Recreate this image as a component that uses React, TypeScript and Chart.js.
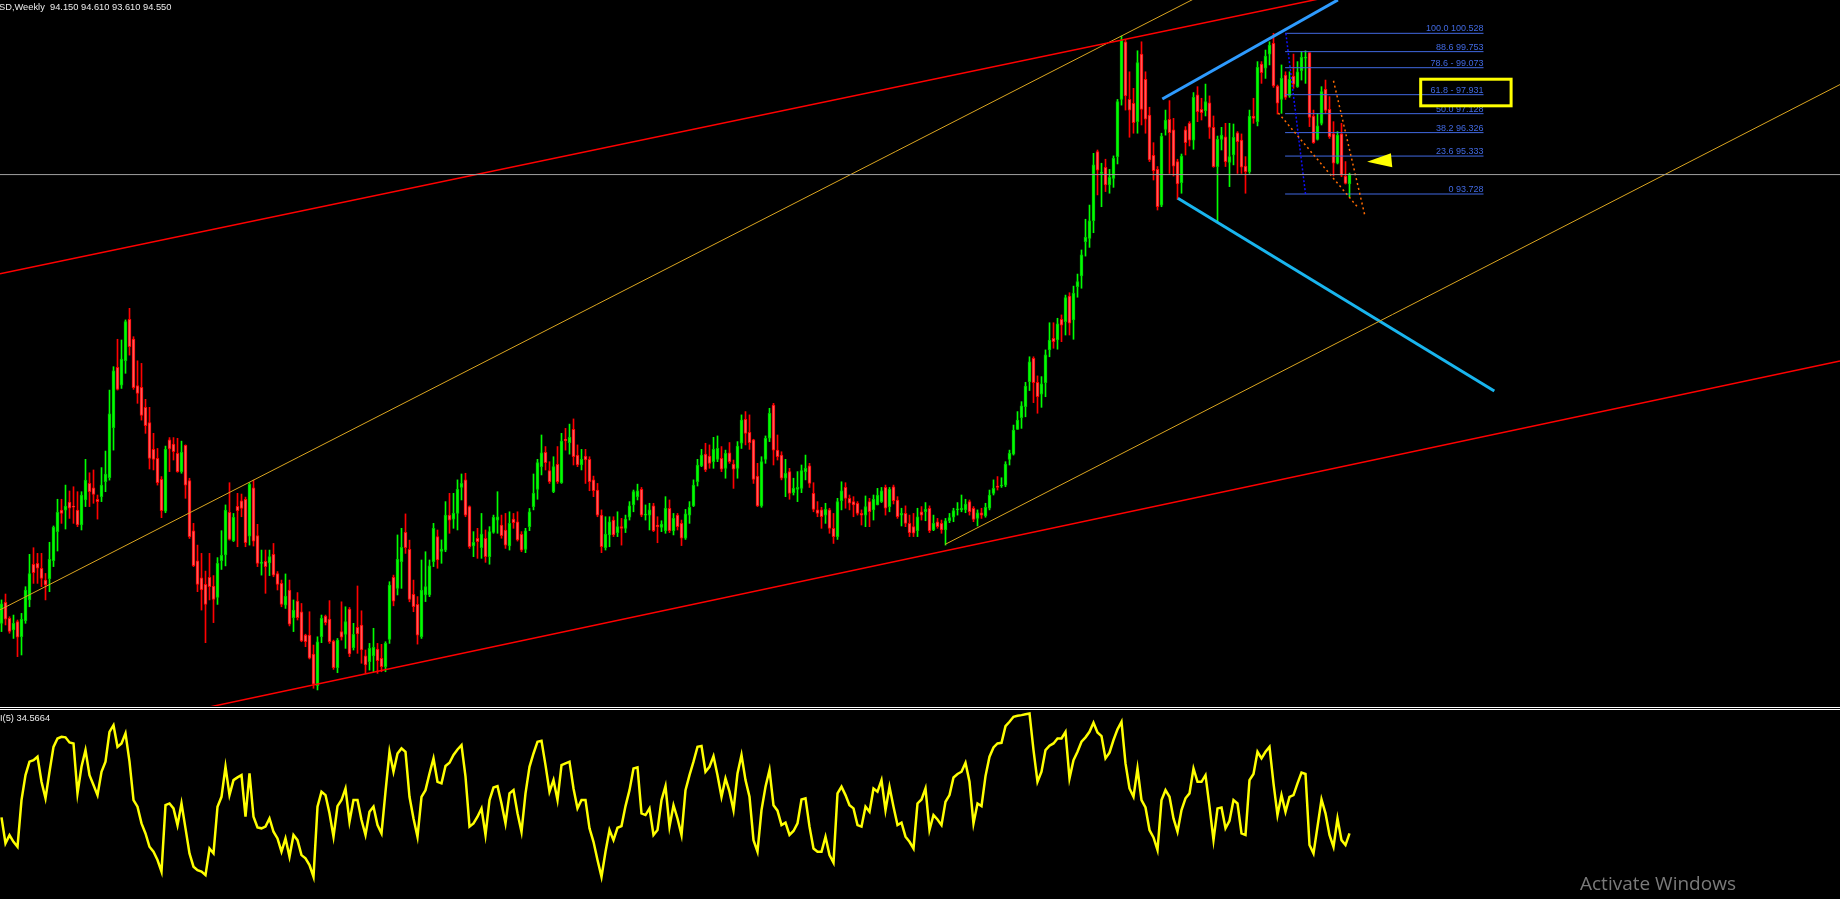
import React, { useEffect, useRef } from 'react';
import { Chart, registerables } from 'chart.js';
Chart.register(...registerables);

// ---- Weekly OHLC ----
const opens = [
75.56,76.45,75.77,75.28,75.63,74.99,75.67,76.55,78.06,78.10,
77.89,77.39,77.45,78.21,79.44,80.35,80.35,80.69,80.52,80.35,
79.72,80.78,81.48,81.29,80.81,80.92,81.55,81.72,83.84,86.39,
85.64,86.67,88.42,87.59,85.62,85.55,84.70,84.06,82.92,82.54,
81.65,80.31,83.32,83.15,82.75,81.98,83.09,81.60,79.47,78.20,
77.48,77.21,77.51,77.14,76.66,78.21,78.45,80.26,79.06,80.51,
80.74,80.81,79.25,81.29,79.27,78.10,78.18,78.12,78.48,77.67,
77.25,76.33,76.97,75.80,76.50,76.05,75.06,75.06,74.26,72.92,
74.99,75.87,75.74,74.81,73.68,75.21,75.09,76.16,74.53,75.39,
75.49,74.18,73.94,74.18,74.47,74.08,73.73,74.88,77.51,77.04,
78.17,79.41,78.69,76.79,76.36,75.00,76.76,76.76,78.17,79.23,
78.60,78.66,80.14,79.97,80.21,81.31,81.63,80.50,78.84,79.16,
78.76,79.16,78.38,79.41,79.93,79.72,79.51,78.84,79.97,79.86,
79.33,78.69,79.65,80.50,81.23,82.19,82.80,82.02,81.13,82.29,
81.51,83.35,83.20,83.77,82.68,82.26,82.64,82.50,81.63,81.20,
80.14,78.76,79.30,79.93,79.40,79.65,79.58,80.05,80.57,80.92,
81.23,80.14,80.14,80.53,79.72,79.62,79.48,80.43,79.48,80.14,
79.79,79.16,80.14,80.53,81.55,82.22,82.72,82.64,82.40,82.50,
82.54,82.12,82.78,82.30,82.12,83.18,84.19,83.64,83.32,81.79,
80.53,82.50,83.39,84.80,82.89,82.68,81.70,81.98,81.09,81.23,
81.27,81.98,82.22,81.06,80.36,80.36,80.14,80.36,79.58,79.23,
80.75,81.31,80.85,80.71,80.64,80.21,80.14,80.71,80.36,80.57,
80.71,81.31,80.50,81.34,80.78,80.14,80.21,79.79,79.65,79.48,
80.28,80.28,80.43,79.51,79.86,79.79,79.51,79.90,80.05,80.36,
80.36,80.36,80.71,80.43,80.00,80.24,80.10,80.43,81.06,81.37,
81.37,81.41,82.50,82.72,83.77,84.26,84.73,85.79,86.77,85.76,
85.26,85.74,87.13,87.62,87.55,88.42,88.33,89.41,88.40,89.81,
90.26,91.71,91.85,92.60,95.52,94.60,94.86,94.11,94.39,95.31,
97.73,100.17,97.73,97.57,96.79,99.65,98.58,97.07,95.36,94.77,
93.26,96.46,96.89,96.44,95.10,94.21,96.44,96.72,96.01,97.92,
97.31,97.25,97.59,96.55,94.89,96.04,96.15,95.06,95.38,96.32,
96.01,94.91,94.67,97.03,96.79,99.23,99.05,99.65,100.10,98.30,
97.73,98.76,97.88,98.72,98.27,98.95,99.48,99.71,97.03,96.04,
96.72,98.16,97.31,96.27,95.03,96.27,94.49,94.15
];
const highs = [
76.55,76.80,75.84,75.91,75.70,75.98,77.11,78.48,78.76,78.52,
78.52,77.67,78.99,79.68,80.81,80.81,81.41,81.16,81.34,81.13,
81.13,82.50,81.93,82.05,80.99,82.15,82.85,85.43,86.42,87.58,
87.55,88.40,88.89,87.69,86.67,86.56,85.04,84.70,83.60,82.96,
81.77,83.06,83.42,83.42,83.39,83.27,83.11,81.70,79.79,78.87,
78.52,77.77,78.52,77.58,78.34,79.48,80.57,81.51,80.21,81.06,
81.03,80.90,81.51,81.62,79.75,78.66,78.66,78.66,78.94,77.75,
77.39,77.65,77.39,76.55,76.86,76.40,75.10,76.05,74.64,74.99,
75.91,75.91,76.52,74.85,74.92,76.47,76.26,76.23,75.56,77.14,
76.09,74.43,74.71,75.35,74.71,74.67,74.78,77.32,77.60,79.30,
79.58,80.19,79.08,77.39,76.69,78.24,78.59,78.24,79.79,79.51,
79.09,80.71,81.06,81.06,81.63,81.88,81.91,80.53,79.44,79.58,
80.21,79.51,79.65,80.14,81.13,80.14,80.21,80.28,80.21,80.28,
79.44,79.58,80.42,81.88,82.50,83.53,83.04,82.40,82.61,83.04,
83.60,83.81,83.99,84.21,83.11,82.92,82.92,82.61,81.79,81.48,
80.36,80.07,80.07,80.07,80.28,80.00,80.14,80.71,81.20,81.45,
81.31,80.57,80.64,80.64,80.07,79.90,80.92,80.78,80.21,80.21,
79.93,80.38,80.71,81.63,82.50,82.92,83.18,83.11,83.43,83.49,
83.04,82.89,83.21,82.47,83.25,84.38,84.52,84.38,83.35,82.33,
82.61,83.49,84.66,84.87,83.53,82.82,82.50,82.12,81.70,81.98,
82.26,82.68,82.33,81.51,80.71,80.47,80.64,80.43,80.21,80.85,
81.55,81.51,80.99,80.92,80.71,80.36,80.95,80.85,80.99,81.27,
81.31,81.41,81.31,81.41,80.92,80.43,80.53,80.14,80.21,80.43,
80.50,80.67,80.53,80.14,80.00,79.93,80.00,80.21,80.43,80.67,
80.99,80.81,80.78,80.50,80.36,80.43,80.64,81.20,81.63,81.77,
81.72,82.40,82.89,83.95,84.52,84.94,85.76,86.84,86.84,86.03,
86.00,87.13,88.28,88.28,88.47,88.61,89.45,89.55,89.83,90.34,
91.36,92.66,93.26,95.45,95.59,95.03,95.20,94.77,95.34,97.73,
100.41,100.25,98.90,98.20,99.79,100.17,98.90,97.40,95.90,94.89,
96.30,97.28,97.68,96.93,95.20,95.42,96.58,96.79,98.02,98.27,
97.78,98.38,97.88,97.03,96.18,96.55,96.72,96.72,96.69,96.37,
96.27,95.31,97.28,97.78,99.33,99.33,99.82,100.17,100.53,98.34,
99.19,98.90,98.90,99.65,99.33,99.75,99.79,99.71,97.28,97.14,
98.27,98.55,97.85,96.79,96.37,96.72,95.10,94.61
];
const lows = [
75.21,75.49,75.14,74.92,74.15,74.22,75.56,76.26,77.25,77.25,
77.11,76.55,76.90,77.96,78.62,79.79,79.55,80.00,79.79,79.65,
79.51,80.50,80.50,80.64,79.97,80.71,81.13,81.62,82.89,85.43,
85.50,86.14,86.91,85.46,84.87,84.16,83.60,82.09,82.05,81.41,
80.03,80.24,81.98,82.47,81.95,81.91,80.85,79.15,77.96,76.90,
76.12,74.74,76.55,75.59,76.36,77.84,77.99,79.08,79.02,78.80,
80.07,78.80,78.87,78.83,77.96,77.60,76.83,77.58,77.53,76.97,
76.26,76.19,75.45,75.21,75.70,74.78,74.57,74.05,72.81,72.74,
74.74,75.49,74.71,73.61,73.47,74.85,74.50,74.15,74.43,74.29,
73.87,73.44,73.58,73.51,73.44,73.51,73.51,74.71,76.30,76.76,
77.04,78.52,76.47,76.05,74.68,74.92,76.48,76.69,77.96,77.89,
78.10,78.59,79.37,79.58,79.51,80.78,80.07,78.73,78.38,78.31,
78.31,78.14,78.06,79.37,79.37,79.16,78.73,78.66,79.58,79.04,
78.59,78.55,79.48,80.36,80.81,81.84,82.05,81.48,81.09,81.48,
81.48,82.89,82.72,82.26,82.19,82.05,81.48,81.17,80.92,80.07,
78.55,78.66,78.80,79.23,79.23,78.87,79.40,79.93,80.28,80.78,
80.07,79.93,79.51,79.44,78.97,79.44,79.37,79.40,79.30,79.51,
78.85,79.11,79.79,80.50,81.37,82.19,81.98,82.12,82.12,82.40,
81.98,81.70,82.33,81.27,81.70,82.96,83.11,82.92,81.48,80.50,
80.47,82.33,83.25,82.26,82.47,81.63,80.92,80.81,80.99,80.71,
81.09,81.63,81.31,80.28,80.07,79.58,79.79,79.37,78.94,79.11,
80.36,80.43,80.36,80.07,80.14,79.72,79.65,79.65,79.93,80.57,
80.67,80.14,80.28,80.61,80.00,79.68,79.65,79.23,79.23,79.23,
79.93,79.90,79.40,79.48,79.58,79.37,78.87,79.82,79.86,80.14,
80.28,80.24,80.14,79.86,79.68,80.00,80.05,80.36,80.99,81.20,
81.31,81.34,82.26,82.68,83.77,83.81,84.30,85.41,84.90,84.45,
84.70,85.15,86.84,87.20,87.16,87.48,87.76,87.76,87.58,89.36,
89.74,91.10,91.47,92.09,93.69,93.19,93.83,93.76,94.01,95.00,
97.49,97.28,96.13,96.30,96.30,96.65,96.30,95.10,94.32,93.05,
93.19,96.22,94.60,94.49,93.50,93.76,95.38,95.76,95.62,96.79,
96.86,97.03,96.08,94.86,92.56,95.59,94.89,94.04,94.96,94.60,
94.60,93.76,94.60,96.72,96.61,98.41,98.62,99.19,98.24,97.11,
97.14,97.73,97.82,98.20,98.24,98.55,98.41,96.58,95.87,96.01,
96.65,97.14,96.08,94.49,95.00,94.46,94.15,93.61
];
const closes = [
76.38,75.74,75.22,75.56,74.97,75.73,76.97,77.67,77.70,77.89,
77.46,77.18,78.27,79.62,80.26,80.21,80.52,80.43,80.47,79.72,
80.99,81.62,81.13,81.02,80.71,81.41,81.88,84.42,86.24,85.46,
86.74,88.33,87.27,85.53,85.29,84.36,83.92,82.54,82.50,81.51,
80.33,82.92,82.94,82.82,81.98,82.80,81.41,79.23,78.00,77.21,
76.97,76.36,77.11,76.57,78.10,78.44,80.35,79.11,80.04,80.33,
80.42,78.97,81.44,79.04,78.10,78.14,77.96,78.38,77.60,77.21,
76.36,76.71,75.52,76.12,75.80,74.82,74.78,74.08,72.98,74.78,
75.77,75.59,74.78,73.68,74.85,74.97,75.63,74.26,75.09,75.11,
74.43,73.80,74.50,74.54,73.98,73.73,74.71,77.18,76.50,78.27,
78.78,78.76,76.57,76.26,75.06,76.97,77.11,77.99,79.58,78.24,
78.70,80.14,79.93,80.21,81.23,81.48,80.14,78.80,78.99,79.02,
79.34,78.38,79.44,80.05,80.07,79.27,78.87,79.79,79.82,79.09,
78.66,79.47,80.28,81.06,82.36,82.78,82.36,81.55,82.19,81.55,
83.27,83.29,83.43,82.61,82.26,82.50,82.47,81.55,81.17,80.14,
78.80,79.34,79.86,79.30,79.65,79.58,79.97,80.53,81.13,81.17,
80.14,80.17,80.36,79.48,79.65,79.76,80.43,79.48,80.00,79.65,
79.16,80.19,80.47,81.41,82.26,82.68,82.05,82.33,82.92,82.96,
82.08,82.75,82.40,82.08,83.06,84.16,83.60,83.20,81.65,80.53,
82.40,83.39,84.45,82.89,82.61,81.70,81.91,81.06,81.27,81.31,
82.02,82.12,81.48,80.38,80.21,80.07,80.38,79.58,79.23,80.71,
81.17,80.85,80.64,80.57,80.21,80.14,80.50,80.28,80.81,80.99,
81.17,80.43,81.23,80.75,80.07,80.21,79.79,79.40,79.37,80.07,
80.14,80.38,79.48,79.79,79.65,79.51,79.90,80.03,80.33,80.40,
80.43,80.61,80.28,79.96,80.24,80.14,80.47,80.99,81.27,81.31,
81.41,82.30,82.75,83.74,84.16,84.76,85.60,86.63,85.74,85.15,
85.69,86.92,87.55,87.48,88.23,88.18,89.34,88.26,89.52,90.02,
91.15,91.89,92.59,94.96,94.74,94.65,94.11,94.43,95.24,97.64,
100.25,97.88,97.28,96.75,99.29,97.31,96.89,95.17,94.72,93.19,
96.18,96.86,96.32,94.91,94.15,95.33,95.90,96.01,97.82,97.21,
97.17,97.64,96.55,94.89,96.04,96.22,95.10,95.31,96.13,95.94,
94.86,94.67,97.03,96.93,99.09,98.86,99.57,100.03,98.30,97.57,
98.62,97.82,98.58,98.38,98.90,99.51,99.51,96.97,95.90,96.61,
98.06,97.26,96.15,95.03,96.22,94.53,94.18,94.55
];

// ---- RSI(5) values ----
const rsi5 = [
43.0,29.3,33.6,30.1,27.5,52.1,65.2,72.3,73.1,74.9,
61.7,53.0,67.0,80.1,84.5,85.4,85.1,82.4,81.9,55.6,
69.6,78.4,65.2,60.0,54.7,67.0,72.3,88.0,91.5,80.1,
81.9,87.2,72.3,52.1,48.6,39.8,34.5,27.5,24.9,20.5,
14.4,49.4,50.3,47.7,38.9,50.3,37.2,24.0,17.0,15.2,
14.4,12.6,26.6,24.0,48.6,53.8,69.6,54.7,62.6,64.0,
65.2,43.3,66.1,43.3,37.7,37.2,38.1,42.4,35.4,31.9,
24.9,31.9,22.3,33.7,31.0,23.1,21.4,17.9,11.7,48.6,
56.5,54.7,45.1,32.8,48.9,52.1,58.2,40.7,52.1,52.1,
41.6,33.7,45.9,48.6,38.9,34.5,56.5,77.5,67.0,76.6,
79.3,77.5,53.8,42.4,32.8,53.8,57.3,66.1,74.0,61.7,
60.9,70.0,71.7,75.8,78.7,81.0,64.4,38.1,39.8,43.3,
47.7,33.7,52.1,58.7,59.4,50.3,39.8,55.6,57.3,45.1,
35.4,55.6,69.6,76.6,82.8,83.3,70.5,56.5,62.6,52.1,
70.5,71.4,72.3,58.2,47.7,52.1,52.1,37.2,30.1,20.5,
11.7,24.9,36.3,31.0,37.5,38.4,48.9,57.3,68.7,69.3,
45.1,44.2,47.7,33.7,36.3,52.1,59.4,38.1,49.4,42.4,
33.7,57.3,65.2,72.3,80.1,80.5,67.0,69.6,75.2,65.2,
53.8,63.5,56.5,46.8,66.1,75.8,62.6,53.8,31.0,24.9,
46.8,59.1,67.9,49.4,46.5,38.9,40.2,33.7,35.8,39.8,
52.4,53.0,38.1,26.6,24.9,24.9,32.8,23.1,19.1,55.6,
59.1,54.7,49.4,47.7,38.9,38.1,48.6,45.9,58.2,56.5,
62.6,46.8,59.1,48.6,38.9,40.2,32.8,30.1,26.6,50.3,
52.4,58.2,36.3,44.2,41.9,38.9,51.2,54.7,64.0,65.8,
67.0,71.7,61.7,39.8,50.3,48.9,64.7,74.9,79.8,81.9,
82.2,91.0,93.3,95.9,96.5,96.8,97.3,97.7,78.4,61.7,
67.0,78.4,80.7,81.9,84.5,84.5,88.0,63.5,73.1,77.5,
82.8,85.1,88.0,92.8,87.7,85.8,74.0,77.0,83.7,89.3,
93.3,71.4,58.2,53.8,68.7,52.1,48.2,36.3,32.4,25.8,
52.1,57.3,53.8,42.4,35.4,46.8,53.0,55.6,68.7,61.7,
61.7,65.2,48.6,31.0,47.7,48.2,37.2,41.2,52.1,50.3,
34.5,33.7,62.6,65.8,77.5,74.0,77.5,80.1,60.9,44.2,
54.7,45.9,53.8,54.7,60.9,66.5,65.8,28.4,24.0,38.1,
52.4,45.1,33.7,27.5,42.4,31.0,28.4,34.5664
];

// ---- Axis ranges ----
const barIndexRange = [-0.375, 459.625];
const priceRange = [72.061, 101.938];
const rsiRange = [0, 99.5];

// ---- Fibonacci retracement ----
const fibLevels = [100.0, 88.6, 78.6, 61.8, 50.0, 38.2, 23.6, 0];
const fibPrices = [100.528, 99.753, 99.073, 97.931, 97.128, 96.326, 95.333, 93.728];
const fibLabels = ['100.0 100.528', '88.6 99.753', '78.6 - 99.073', '61.8 - 97.931', '50.0 97.128', '38.2 96.326', '23.6 95.333', '0 93.728'];
const fibSpan = [320.9, 370.5];
const fibDiagonal = [[321.1, 100.528], [326.0, 93.728]];

// ---- Trend lines: [barIndex, price] end points ----
const redUpperLine = [[-0.375, 90.35], [349.7, 102.70]];
const redLowerLine = [[50.9, 71.98], [459.625, 86.66]];
const goldUpperLine = [[-0.375, 76.13], [309.7, 102.99]];
const goldLowerLine = [[235.9, 78.90], [459.625, 98.36]];
const channelUpperLine = [[290.2, 97.75], [334.1, 101.94]];
const channelLowerLine = [[294.1, 93.55], [373.2, 85.39]];
const wedgeLineA = [[319.2, 97.16], [339.2, 93.14]];
const wedgeLineB = [[333.0, 98.52], [340.9, 92.77]];

// ---- Highlight annotations: [barIndex, price] ----
const highlightBox = [[354.8, 98.586], [377.4, 97.46]];
const arrowTriangle = [[341.4, 95.095], [347.35, 95.45], [347.7, 94.86]];

const FIB_COLOR = '#4169e1';
const LABEL_FONT = '9px "Liberation Sans", Arial, sans-serif';

function lineDs(points: number[][], color: string, width: number, dash: number[] = []) {
  return {
    type: 'line' as const,
    data: points.map(([x, y]) => ({ x, y })),
    borderColor: color,
    borderWidth: width,
    borderDash: dash,
    pointRadius: 0,
    fill: false,
    tension: 0,
    order: 1,
  };
}

const overlayPlugin = {
  id: 'overlay',
  afterDatasetsDraw(chart: any) {
    const { ctx } = chart;
    const xs = chart.scales.x;
    const ys = chart.scales.y;
    ctx.save();
    ctx.font = LABEL_FONT;
    ctx.fillStyle = FIB_COLOR;
    ctx.textAlign = 'right';
    ctx.textBaseline = 'alphabetic';
    const xr = xs.getPixelForValue(fibSpan[1]);
    fibPrices.forEach((p, k) => {
      ctx.fillText(fibLabels[k], xr, ys.getPixelForValue(p) - 2);
    });
    const bx1 = xs.getPixelForValue(highlightBox[0][0]);
    const by1 = ys.getPixelForValue(highlightBox[0][1]);
    const bx2 = xs.getPixelForValue(highlightBox[1][0]);
    const by2 = ys.getPixelForValue(highlightBox[1][1]);
    ctx.strokeStyle = '#ffff00';
    ctx.lineWidth = 3;
    ctx.strokeRect(bx1, by1, bx2 - bx1, by2 - by1);
    ctx.fillStyle = '#ffff00';
    ctx.beginPath();
    arrowTriangle.forEach(([i, p], k) => {
      const px = xs.getPixelForValue(i);
      const py = ys.getPixelForValue(p);
      if (k === 0) ctx.moveTo(px, py); else ctx.lineTo(px, py);
    });
    ctx.closePath();
    ctx.fill();
    ctx.restore();
  },
};

export default function App() {
  const mainRef = useRef<HTMLCanvasElement>(null);
  const rsiRef = useRef<HTMLCanvasElement>(null);

  useEffect(() => {
    const idx = closes.map((_, i) => i);
    const bull = (i: number) => closes[i] >= opens[i];
    const lastClose = closes[closes.length - 1];

    const datasets: any[] = [
      {
        type: 'bar',
        data: idx.map((i) => ({ x: i, y: [lows[i], highs[i]] })),
        backgroundColor: idx.map((i) => (bull(i) ? '#00ff00' : '#ff0000')),
        borderWidth: 0,
        barThickness: 1,
        grouped: false,
        minBarLength: 1,
        order: 10,
      },
      {
        type: 'bar',
        data: idx.map((i) => ({ x: i, y: [opens[i], closes[i]] })),
        backgroundColor: idx.map((i) => (bull(i) ? '#00ff00' : '#ff5a5a')),
        borderColor: idx.map((i) => (bull(i) ? '#00c800' : '#ff0000')),
        borderWidth: 1,
        borderSkipped: false,
        barThickness: 3,
        grouped: false,
        minBarLength: 1,
        order: 9,
      },
      lineDs([[barIndexRange[0], lastClose], [barIndexRange[1], lastClose]], '#a0a0a0', 1),
      lineDs(redUpperLine, '#ff0000', 1.5),
      lineDs(redLowerLine, '#ff0000', 1.5),
      lineDs(goldUpperLine, '#daa520', 1),
      lineDs(goldLowerLine, '#daa520', 1),
      lineDs(channelUpperLine, '#2e9bff', 3),
      lineDs(channelLowerLine, '#19b5ee', 3),
      lineDs(wedgeLineA, '#ff6a00', 1.5, [2, 3]),
      lineDs(wedgeLineB, '#ff6a00', 1.5, [2, 3]),
      lineDs(fibDiagonal, '#1010ff', 1.5, [2, 2]),
      ...fibPrices.map((p) => lineDs([[fibSpan[0], p], [fibSpan[1], p]], FIB_COLOR, 1)),
    ];

    const main = new Chart(mainRef.current!, {
      type: 'bar',
      data: { datasets },
      options: {
        animation: false,
        responsive: false,
        devicePixelRatio: 1,
        events: [],
        layout: { padding: 0 },
        plugins: { legend: { display: false }, tooltip: { enabled: false } },
        scales: {
          x: { type: 'linear', min: barIndexRange[0], max: barIndexRange[1], display: false, offset: false },
          y: { type: 'linear', min: priceRange[0], max: priceRange[1], display: false },
        },
      },
      plugins: [overlayPlugin],
    } as any);

    const rsi = new Chart(rsiRef.current!, {
      type: 'line',
      data: {
        datasets: [
          {
            data: rsi5.map((v, i) => ({ x: i, y: v })),
            borderColor: '#ffff00',
            borderWidth: 2.5,
            pointRadius: 0,
            tension: 0,
            fill: false,
          },
        ],
      },
      options: {
        animation: false,
        responsive: false,
        devicePixelRatio: 1,
        events: [],
        layout: { padding: 0 },
        plugins: { legend: { display: false }, tooltip: { enabled: false } },
        scales: {
          x: { type: 'linear', min: barIndexRange[0], max: barIndexRange[1], display: false },
          y: { type: 'linear', min: rsiRange[0], max: rsiRange[1], display: false },
        },
      },
    } as any);

    return () => {
      main.destroy();
      rsi.destroy();
    };
  }, []);

  const textBase: React.CSSProperties = {
    position: 'absolute',
    font: '9.3px "Liberation Sans", Arial, sans-serif',
    lineHeight: '9px',
    color: '#ececec',
    whiteSpace: 'pre',
  };

  return (
    <div style={{ position: 'fixed', left: 0, top: 0, width: 1840, height: 899, background: '#000', overflow: 'hidden' }}>
      <canvas ref={mainRef} width={1840} height={706} style={{ position: 'absolute', left: 0, top: 0, width: 1840, height: 706 }} />
      <div style={{ position: 'absolute', left: 0, top: 707, width: 1840, height: 1, background: '#ffffff' }} />
      <div style={{ position: 'absolute', left: 0, top: 709, width: 1840, height: 1, background: '#ffffff' }} />
      <canvas ref={rsiRef} width={1840} height={189} style={{ position: 'absolute', left: 0, top: 710, width: 1840, height: 189 }} />
      <div style={{ ...textBase, left: -1, top: 3 }}>{'SD,Weekly  94.150 94.610 93.610 94.550'}</div>
      <div style={{ ...textBase, left: 0, top: 714 }}>{'I(5) 34.5664'}</div>
      <div style={{ position: 'absolute', left: 1580, top: 874, font: '19px "Open Sans", "Noto Sans", sans-serif', lineHeight: '18px', color: '#7a7a7a', whiteSpace: 'pre' }}>
        Activate Windows
      </div>
    </div>
  );
}
